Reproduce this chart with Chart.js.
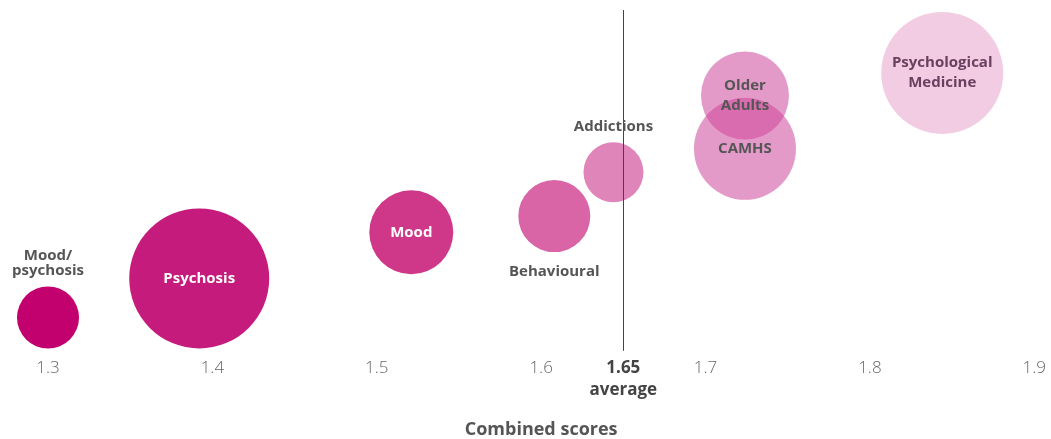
<!DOCTYPE html>
<html>
<head>
<meta charset="utf-8">
<script src="https://cdn.jsdelivr.net/npm/chart.js@4"></script>
<style>
  html, body { margin: 0; padding: 0; background: #fff; }
  #wrap { width: 1051px; height: 439px; }
</style>
</head>
<body>
<div id="wrap"><canvas id="bubbleChart"></canvas></div>
<script>
// data
const services = ['Mood/psychosis', 'Psychosis', 'Mood', 'Behavioural', 'Addictions', 'CAMHS', 'Older Adults', 'Psychological Medicine'];
const combinedScores = [1.30, 1.392, 1.521, 1.608, 1.644, 1.724, 1.724, 1.844];
const heightValues = [8.7, 20.3, 34, 38.8, 51.8, 58.8, 74.6, 81.3];
const bubbleSizes = [31, 70, 42, 36, 30, 51, 44, 61];
const xTicks = [1.3, 1.4, 1.5, 1.6, 1.65, 1.7, 1.8, 1.9];
const averageScore = 1.65;

// label text, where it sits, colour
const labelLines = [['Mood/', 'psychosis'], ['Psychosis'], ['Mood'], ['Behavioural'], ['Addictions'], ['CAMHS'], ['Older', 'Adults'], ['Psychological', 'Medicine']];
const labelPlace = ['above', 'in', 'in', 'below', 'above', 'in', 'in', 'in'];
const labelColors = ['#555', '#fff', '#fff', '#555', '#555', '#555', '#555', '#6a4060'];
const bubbleColors = ['#c2006e', '#c51b7c', '#cf3789', '#d964a6', '#e085b9',
  'rgba(206,71,155,0.55)', 'rgba(206,71,155,0.55)', '#f2cce2'];

const points = services.map((s, i) => ({ x: combinedScores[i], y: heightValues[i], r: bubbleSizes[i] }));

const avgLine = {
  id: 'avgLine',
  afterDatasetsDraw(chart) {
    const { ctx, chartArea, scales } = chart;
    const x = Math.round(scales.x.getPixelForValue(averageScore)) + 0.5;
    ctx.save();
    ctx.strokeStyle = '#444';
    ctx.lineWidth = 1;
    ctx.beginPath();
    ctx.moveTo(x, chartArea.top);
    ctx.lineTo(x, chartArea.bottom + 4);
    ctx.stroke();
    ctx.restore();
  }
};

const bubbleLabels = {
  id: 'bubbleLabels',
  afterDraw(chart) {
    const ctx = chart.ctx;
    const meta = chart.getDatasetMeta(0);
    ctx.save();
    ctx.font = 'bold 15px "Open Sans", sans-serif';
    ctx.textAlign = 'center';
    ctx.textBaseline = 'middle';
    meta.data.forEach((el, i) => {
      const lines = labelLines[i];
      const r = el.options.radius;
      let y0, lh = 20;
      if (labelPlace[i] === 'in') y0 = el.y - (lines.length - 1) * lh / 2;
      else if (labelPlace[i] === 'above') { lh = 15; y0 = el.y - r - 16 - (lines.length - 1) * lh; }
      else y0 = el.y + r + 20;
      ctx.fillStyle = labelColors[i];
      lines.forEach((t, k) => ctx.fillText(t, el.x, y0 + k * lh));
    });
    ctx.restore();
  }
};

const ctx = document.getElementById('bubbleChart').getContext('2d');
new Chart(ctx, {
  type: 'bubble',
  data: {
    datasets: [{
      data: points,
      backgroundColor: bubbleColors,
      borderWidth: 0,
      hoverBorderWidth: 0,
      clip: false
    }]
  },
  options: {
    responsive: true,
    maintainAspectRatio: false,
    animation: false,
    layout: { autoPadding: false, padding: { top: 10, left: 48, right: 16, bottom: 0 } },
    plugins: { legend: { display: false }, tooltip: { enabled: false } },
    scales: {
      x: {
        type: 'linear',
        min: 1.3,
        max: 1.9,
        afterBuildTicks(scale) { scale.ticks = xTicks.map(v => ({ value: v })); },
        grid: { display: false, drawTicks: true, tickLength: 5, tickColor: 'rgba(0,0,0,0)' },
        border: { display: false },
        ticks: {
          padding: 5,
          maxRotation: 0,
          autoSkip: false,
          color: (c) => c.tick && c.tick.value === averageScore ? '#444' : '#666',
          font: (c) => c.tick && c.tick.value === averageScore
            ? { family: '"Open Sans", sans-serif', size: 17, weight: 'bold', lineHeight: 1.3 }
            : { family: '"Open Sans", sans-serif', size: 17, weight: '300', lineHeight: 1.3 },
          callback: (v) => v === averageScore ? ['1.65', 'average'] : String(v)
        },
        title: {
          display: true,
          text: 'Combined scores',
          color: '#555',
          font: { family: '"Open Sans", sans-serif', size: 18, weight: 'bold', lineHeight: 1 },
          padding: { top: 15, bottom: 0 }
        }
      },
      y: { display: false, min: 0, max: 100 }
    }
  },
  plugins: [avgLine, bubbleLabels]
});
</script>
</body>
</html>
